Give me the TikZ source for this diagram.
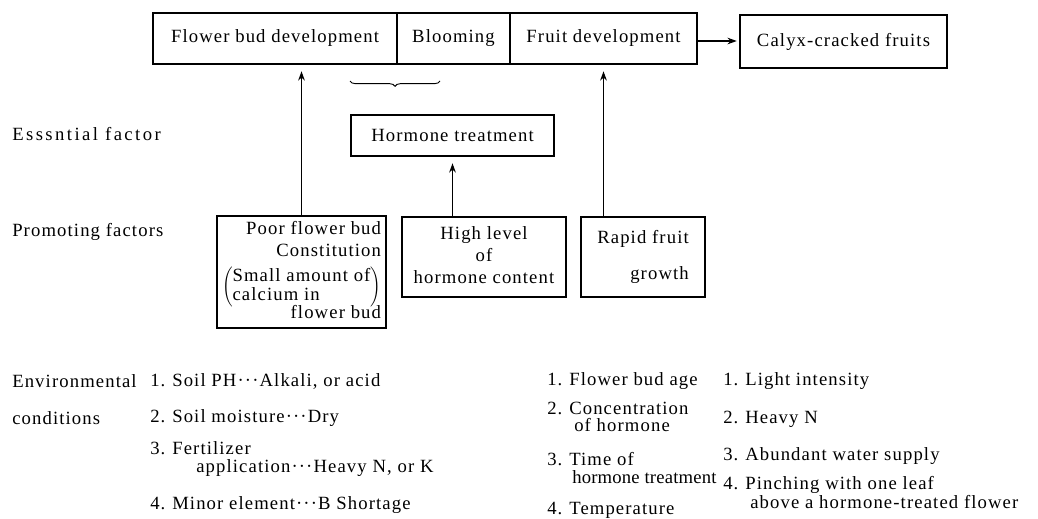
\documentclass[tikz,border=0pt]{standalone}
\usepackage{fontspec}
\setmainfont{Liberation Serif}[LetterSpace=6]
\usetikzlibrary{arrows.meta,decorations.pathreplacing}
\begin{document}
\begin{tikzpicture}[x=0.75pt,y=-0.75pt,
  font=\fontsize{14}{16.8}\selectfont,
  box/.style={draw, line width=0.9pt, inner sep=0pt, align=center},
  conn/.style={line width=0.9pt, -{Stealth[length=7pt,width=5pt]}},
  lbl/.style={anchor=west, inner sep=0pt},
  brc/.style={decorate, decoration={brace, mirror, amplitude=4pt}, line width=0.7pt}]
\useasboundingbox (0,0) rectangle (1038,518);
% top row
\node[box, minimum width=183pt, minimum height=38.25pt] (fb) at (275,38.5) {Flower bud development};
\node[box, minimum width=84.75pt, minimum height=38.25pt] (bl) at (453.5,38.5) {Blooming};
\node[box, minimum width=140.25pt, minimum height=38.25pt] (fd) at (603.5,38.5) {Fruit development};
\node[box, minimum width=155.25pt, minimum height=39.75pt] (cc) at (843.5,41.5) {Calyx-cracked fruits};
% essential factor
\node[box, minimum width=152.25pt, minimum height=30.75pt] (ht) at (452.5,135.5) {Hormone treatment};
% promoting factors
\node[box, minimum width=126.75pt, minimum height=84pt] (pf) at (301.5,272) {\begin{tabular}{@{}r@{}}Poor flower bud\\Constitution\\[2pt]$\left(\begin{tabular}{@{}l@{}}Small amount of\\[-2.5pt]calcium in\end{tabular}\right)$\\[-3.5pt]flower bud\end{tabular}};
\node[box, minimum width=123pt, minimum height=60pt] (hl) at (484,257) {\begin{tabular}{@{}c@{}}High level\\of\\hormone content\end{tabular}};
\node[box, minimum width=93pt, minimum height=60pt] (rf) at (643,257) {\begin{tabular}{@{}r@{}}Rapid fruit\\[10pt]growth\hspace{6pt}\end{tabular}};
% connectors
\draw[conn] (pf.north) -- ([yshift=-5pt]fb.south -| pf.north);
\draw[conn] (hl.north -| ht.south) -- ([yshift=-5pt]ht.south);
\draw[conn] (rf.north -| fd.south) -- ([yshift=-5pt]fd.south);
\draw[conn] (fd.east |- 0,41) -- ([xshift=-2pt]cc.west |- 0,41);
\coordinate (b1) at (350,81);
\coordinate (b2) at (440,81);
\draw[brc] (b1) -- (b2);
% row labels
\node[lbl] (l1) at (12,134) {\addfontfeature{LetterSpace=13}Esssntial factor};
\node[lbl] (l2) at (12,232) {Promoting factors};
\node[lbl] (l3) at (12,381) {Environmental};
\node[lbl] (l4) at (12,418) {conditions};
% column 1
\node[lbl] (a1) at (150,381) {\makebox[16.5pt][l]{1.}Soil PH···Alkali, or acid};
\node[lbl] (a2) at (150,418) {\makebox[16.5pt][l]{2.}Soil moisture···Dry};
\node[lbl] (a3) at (150,448) {\makebox[16.5pt][l]{3.}Fertilizer};
\node[lbl] (a3b) at (196,468) {application···Heavy N, or K};
\node[lbl] (a4) at (150,505) {\makebox[16.5pt][l]{4.}Minor element···B Shortage};
% column 2
\node[lbl] (c1) at (547,381) {\makebox[16.5pt][l]{1.}Flower bud age};
\node[lbl] (c2) at (547,408) {\makebox[16.5pt][l]{2.}Concentration};
\node[lbl] (c2b) at (574,425) {of hormone};
\node[lbl] (c3) at (547,459) {\makebox[16.5pt][l]{3.}Time of};
\node[lbl] (c3b) at (572,477) {\addfontfeature{LetterSpace=1}hormone treatment};
\node[lbl] (c4) at (547,510) {\makebox[16.5pt][l]{4.}Temperature};
% column 3
\node[lbl] (d1) at (723,381) {\makebox[16.5pt][l]{1.}Light intensity};
\node[lbl] (d2) at (723,419) {\makebox[16.5pt][l]{2.}Heavy N};
\node[lbl] (d3) at (723,456) {\makebox[16.5pt][l]{3.}Abundant water supply};
\node[lbl] (d4) at (723,485) {\makebox[16.5pt][l]{4.}Pinching with one leaf};
\node[lbl] (d4b) at (750,502) {above a hormone-treated flower};
\end{tikzpicture}
\end{document}
